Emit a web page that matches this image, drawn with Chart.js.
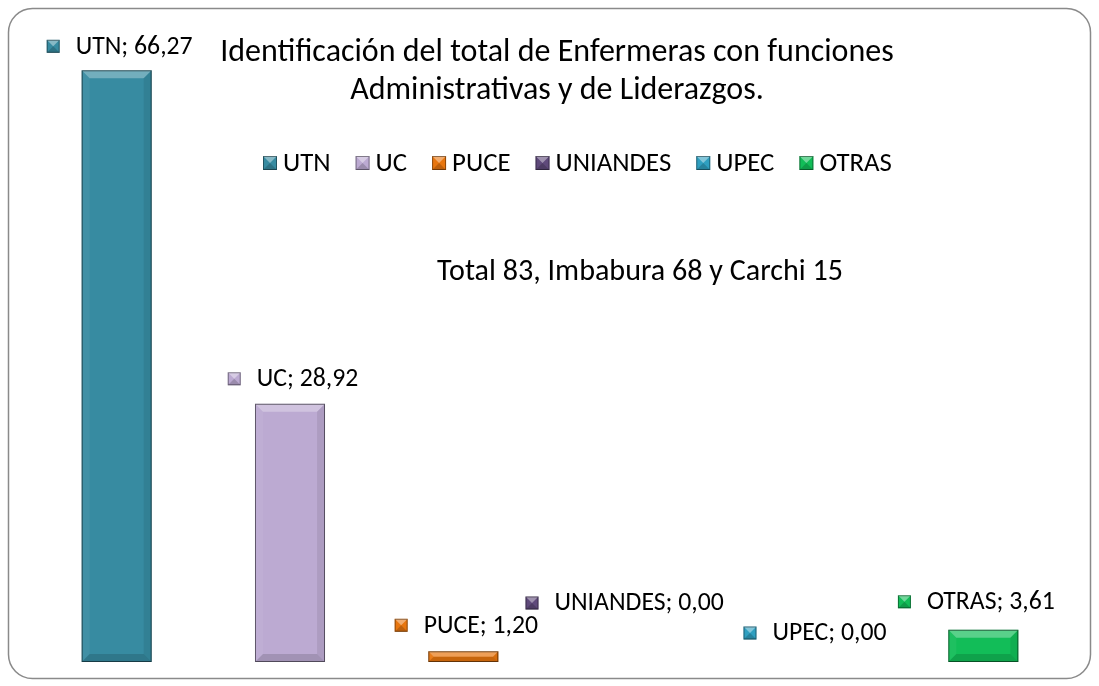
<!DOCTYPE html>
<html>
<head>
<meta charset="utf-8">
<script src="https://cdn.jsdelivr.net/npm/chart.js@4/dist/chart.umd.min.js"></script>
<style>
  html, body { margin: 0; padding: 0; background: #fff; }
  #wrap { width: 1099px; height: 686px; }
</style>
</head>
<body>
<div id="wrap"><canvas id="chart" width="1099" height="686"></canvas></div>
<script>
const categories = ["UTN", "UC", "PUCE", "UNIANDES", "UPEC", "OTRAS"];
const values = [66.27, 28.92, 1.2, 0.0, 0.0, 3.61];
const barColors = ["#378ba1", "#bcaad2", "#e8760f", "#5f4a7b", "#2f9fc0", "#12bd58"];

const titleLines = [
  "Identificación del total de Enfermeras con funciones",
  "Administrativas y de Liderazgos.",
];
const subtitle = "Total 83, Imbabura 68 y Carchi 15";

// where Excel left each data label relative to its bar (px)
const labelDx = [3, 3, 3, -12, 5, -7];
const labelDy = [24, 25, 26, 59, 29, 28];

const FONT = "Carlito, Calibri, Lato, sans-serif";

function fmt(v) {
  return v.toFixed(2).replace(".", ",");
}

// pick a font size so that text takes the given width
function fitSize(ctx, text, width) {
  ctx.font = "100px " + FONT;
  return (100 * width) / ctx.measureText(text).width;
}

function drawIcon(ctx, x, y, s, color) {
  ctx.save();
  ctx.fillStyle = color;
  ctx.fillRect(x, y, s, s);
  ctx.fillStyle = "rgba(255,255,255,0.4)";
  ctx.beginPath();
  ctx.moveTo(x, y);
  ctx.lineTo(x + s, y);
  ctx.lineTo(x + s / 2, y + s / 2);
  ctx.closePath();
  ctx.fill();
  ctx.fillStyle = "rgba(0,0,0,0.18)";
  ctx.beginPath();
  ctx.moveTo(x, y + s);
  ctx.lineTo(x + s, y + s);
  ctx.lineTo(x + s / 2, y + s / 2);
  ctx.closePath();
  ctx.fill();
  ctx.strokeStyle = "rgba(0,0,0,0.4)";
  ctx.lineWidth = 1;
  ctx.strokeRect(x + 0.5, y + 0.5, s - 1, s - 1);
  ctx.restore();
}

const excelLook = {
  id: "excelLook",
  beforeDraw(chart) {
    const ctx = chart.ctx;
    ctx.save();
    ctx.fillStyle = "#fff";
    ctx.fillRect(0, 0, chart.width, chart.height);
    ctx.strokeStyle = "#8a8a8a";
    ctx.lineWidth = 1.5;
    ctx.beginPath();
    ctx.roundRect(8.5, 8.5, chart.width - 17, chart.height - 16, 24);
    ctx.stroke();
    ctx.restore();
  },
  afterDatasetsDraw(chart) {
    const ctx = chart.ctx;
    const meta = chart.getDatasetMeta(0);
    meta.data.forEach((bar) => {
      const p = bar.getProps(["x", "y", "base", "width"], true);
      const h = p.base - p.y;
      if (h <= 0) return;
      const l = p.x - p.width / 2;
      const r = p.x + p.width / 2;
      const t = p.y;
      const b = p.base;
      const bv = Math.min(8, h / 2);
      ctx.save();
      ctx.fillStyle = "rgba(255,255,255,0.3)";
      ctx.beginPath();
      ctx.moveTo(l, t); ctx.lineTo(r, t); ctx.lineTo(r - bv, t + bv); ctx.lineTo(l + bv, t + bv);
      ctx.closePath(); ctx.fill();
      ctx.fillStyle = "rgba(0,0,0,0.14)";
      ctx.beginPath();
      ctx.moveTo(l, b); ctx.lineTo(r, b); ctx.lineTo(r - bv, b - bv); ctx.lineTo(l + bv, b - bv);
      ctx.closePath(); ctx.fill();
      ctx.fillStyle = "rgba(255,255,255,0.05)";
      ctx.beginPath();
      ctx.moveTo(l, t); ctx.lineTo(l + bv, t + bv); ctx.lineTo(l + bv, b - bv); ctx.lineTo(l, b);
      ctx.closePath(); ctx.fill();
      ctx.fillStyle = "rgba(0,0,0,0.08)";
      ctx.beginPath();
      ctx.moveTo(r, t); ctx.lineTo(r - bv, t + bv); ctx.lineTo(r - bv, b - bv); ctx.lineTo(r, b);
      ctx.closePath(); ctx.fill();
      ctx.strokeStyle = "rgba(0,0,0,0.5)";
      ctx.lineWidth = 1;
      ctx.strokeRect(l + 0.5, t + 0.5, p.width - 1, h - 1);
      ctx.restore();
    });
  },
  afterDraw(chart) {
    const ctx = chart.ctx;
    const meta = chart.getDatasetMeta(0);
    ctx.save();
    ctx.fillStyle = "#000";
    ctx.textBaseline = "middle";
    ctx.textAlign = "center";

    // title, two centred lines
    const titleSize = fitSize(ctx, titleLines[0], 674);
    ctx.font = titleSize + "px " + FONT;
    ctx.fillText(titleLines[0], 557, 53);
    ctx.fillText(titleLines[1], 557, 91);

    // subtitle
    ctx.font = fitSize(ctx, subtitle, 406) + "px " + FONT;
    ctx.fillText(subtitle, 640, 272);

    // legend row
    const icon = 14;
    const gapIcon = 6;
    const gapItem = 25;
    const legendLeft = 263;
    const legendRight = 892;
    const fixed = categories.length * (icon + gapIcon) + (categories.length - 1) * gapItem;
    ctx.font = "100px " + FONT;
    let textSum = 0;
    categories.forEach((c) => { textSum += ctx.measureText(c).width; });
    const legendSize = (100 * (legendRight - legendLeft - fixed)) / textSum;
    ctx.font = legendSize + "px " + FONT;
    ctx.textAlign = "left";
    let lx = legendLeft;
    categories.forEach((c, i) => {
      drawIcon(ctx, lx, 163 - icon / 2, icon, barColors[i]);
      lx += icon + gapIcon;
      ctx.fillText(c, lx, 164);
      lx += ctx.measureText(c).width + gapItem;
    });

    // data labels
    const labelSize = fitSize(ctx, "UTN; 66,27", 117);
    ctx.font = labelSize + "px " + FONT;
    meta.data.forEach((bar, i) => {
      const p = bar.getProps(["x", "y"], true);
      const text = categories[i] + "; " + fmt(values[i]);
      const tw = ctx.measureText(text).width;
      const s = 13;
      const gap = 16;
      const full = s + gap + tw;
      const x0 = p.x + labelDx[i] - full / 2;
      const y0 = p.y - labelDy[i];
      drawIcon(ctx, x0, y0 - s / 2, s, barColors[i]);
      ctx.fillText(text, x0 + s + gap, y0 + 1);
    });
    ctx.restore();
  },
};

new Chart(document.getElementById("chart"), {
  type: "bar",
  data: {
    labels: categories,
    datasets: [
      {
        data: values,
        backgroundColor: barColors,
        borderWidth: 0,
        categoryPercentage: 0.8,
        barPercentage: 0.505,
      },
    ],
  },
  options: {
    responsive: false,
    animation: false,
    layout: { padding: { left: 30, right: 29, top: 37, bottom: 24 } },
    plugins: {
      legend: { display: false },
      title: { display: false },
      tooltip: { enabled: false },
    },
    scales: {
      x: { display: false },
      y: { display: false, min: 0, max: 70 },
    },
  },
  plugins: [excelLook],
});
</script>
</body>
</html>
